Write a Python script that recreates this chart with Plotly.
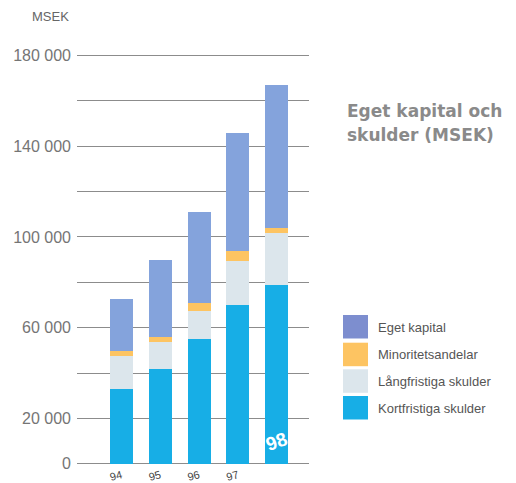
import plotly.graph_objects as go

# ---- data (MSEK) ----
years = ["94", "95", "96", "97", "98"]
kortfristiga = [33000, 41800, 55000, 70000, 78800]
langfristiga = [14600, 11900, 12500, 19500, 22800]
minoritet = [2300, 2200, 3500, 4300, 2200]
eget_kapital = [22800, 33900, 40000, 52100, 63100]

y_tickvals = [0, 20000, 40000, 60000, 80000, 100000, 120000, 140000, 160000, 180000]
y_ticktext = ["0", "20 000", "", "60 000", "", "100 000", "", "140 000", "", "180 000"]

series = [
    ("Kortfristiga skulder", kortfristiga, "#17aee6", "#17aee6"),
    ("Långfristiga skulder", langfristiga, "#dce6ec", "#dce6ec"),
    ("Minoritetsandelar", minoritet, "#fdc462", "#fdc462"),
    ("Eget kapital", eget_kapital, "#84a3dc", "#7d8ecf"),
]

W, H = 516, 483
L, R, T, B = 77, 309, 51, 466


def px_x(p):
    return (p - L) / (R - L)


def px_y(p):
    return (B - p) / (B - T)


fig = go.Figure()
for name, vals, col, _ in series:
    fig.add_trace(go.Bar(x=years, y=vals, name=name, marker=dict(color=col, line=dict(width=0)),
                         width=0.59, showlegend=False))

fig.update_layout(
    width=W, height=H,
    margin=dict(l=L, r=W - R, t=T, b=H - B, autoexpand=False),
    barmode="stack",
    plot_bgcolor="white", paper_bgcolor="white",
    font=dict(family="Liberation Sans, Arial, sans-serif"),
)
fig.update_xaxes(
    type="category", range=[-1.147, 4.832], showgrid=False, zeroline=False, showline=False,
    tickvals=years[:4], ticktext=years[:4], tickangle=-15,
    tickfont=dict(size=11, color="#444444"), ticks="", automargin=False,
)
fig.update_yaxes(
    range=[-1000, 182000], tickvals=y_tickvals, ticktext=y_ticktext,
    showgrid=True, gridcolor="#8c8c8c", gridwidth=1.3, zeroline=False, showline=False,
    tickfont=dict(size=16, color="#757575"), ticks="", automargin=False,
    ticklabelstandoff=5,
)

ann = []
ann.append(dict(text="MSEK", xref="paper", yref="paper", x=px_x(71), y=px_y(17),
                xanchor="right", yanchor="middle", showarrow=False,
                font=dict(size=13, color="#666666")))
ann.append(dict(text="Eget kapital och", xref="paper", yref="paper", x=px_x(345), y=px_y(111),
                xanchor="left", yanchor="middle", showarrow=False,
                font=dict(family="DejaVu Sans", size=17, color="#8a8a8a", weight="bold")))
ann.append(dict(text="skulder (MSEK)", xref="paper", yref="paper", x=px_x(345), y=px_y(135),
                xanchor="left", yanchor="middle", showarrow=False,
                font=dict(family="DejaVu Sans", size=17, color="#8a8a8a", weight="bold")))
ann.append(dict(text="98", xref="x", yref="y", x=years.index("98"), y=9800, textangle=-20,
                xanchor="center", yanchor="middle", showarrow=False,
                font=dict(family="Liberation Sans, Arial", size=19, color="white", weight="bold")))

# legend (top to bottom)
leg_tops = [315, 342.7, 369.3, 396]
shapes = []
for (name, _, _, lc), top in zip(reversed(series), leg_tops):
    shapes.append(dict(type="rect", xref="paper", yref="paper",
                       x0=px_x(343), x1=px_x(368), y0=px_y(top + 23.5), y1=px_y(top),
                       fillcolor=lc, line=dict(width=0)))
    ann.append(dict(text=name, xref="paper", yref="paper", x=px_x(376), y=px_y(top + 12),
                    xanchor="left", yanchor="middle", showarrow=False,
                    font=dict(size=13, color="#555555")))

fig.update_layout(annotations=ann, shapes=shapes)
fig.write_html("out.html")
